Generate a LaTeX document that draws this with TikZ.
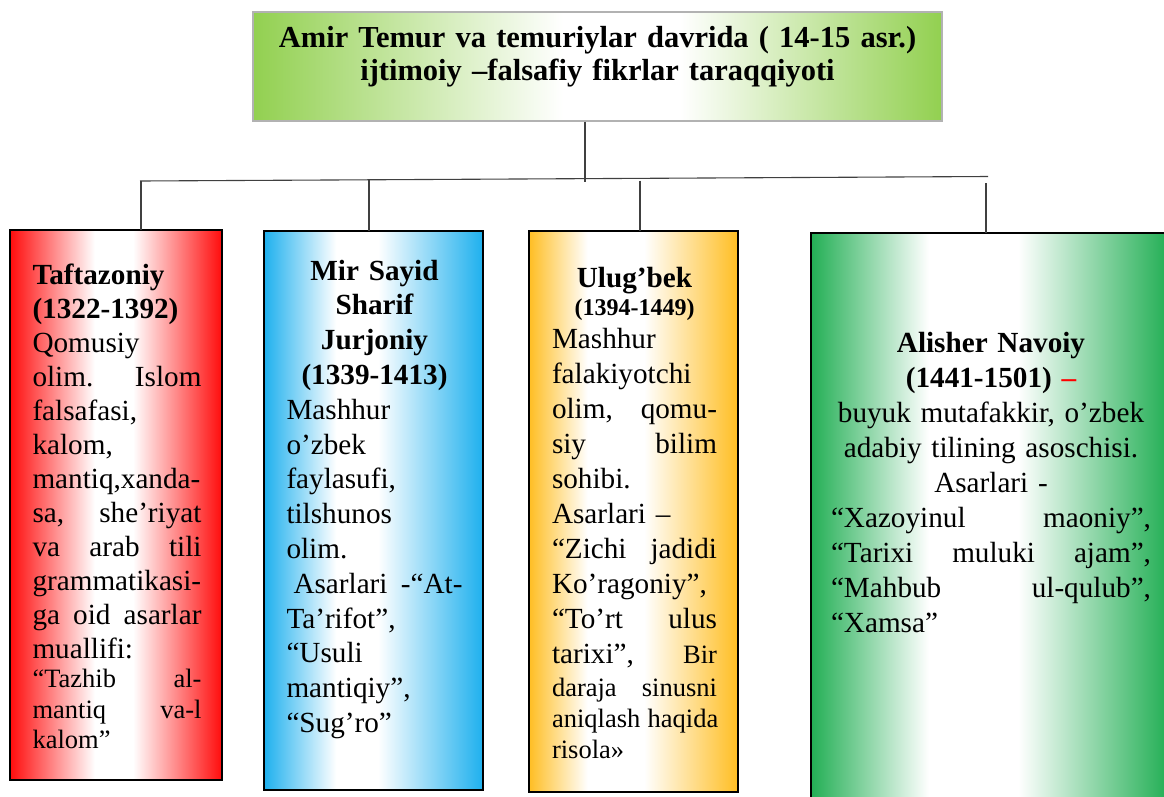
\documentclass[tikz,border=0pt]{standalone}
\usepackage{fontspec}
\setmainfont{Liberation Serif}
\usetikzlibrary{positioning}
\definecolor{headgreen}{RGB}{146,208,80}
\definecolor{cardred}{RGB}{255,12,12}
\definecolor{cardblue}{RGB}{30,176,238}
\definecolor{cardorange}{RGB}{255,190,35}
\definecolor{cardgreen}{RGB}{35,175,85}
% fades: the box itself covers 25bp..75bp of each shading
\pgfdeclarehorizontalshading{headfade}{100bp}{color(0bp)=(headgreen); color(25bp)=(headgreen); color(47.5bp)=(white); color(56bp)=(white); color(75bp)=(headgreen); color(100bp)=(headgreen)}
\pgfdeclarehorizontalshading{redfade}{100bp}{color(0bp)=(cardred); color(25bp)=(cardred); color(45bp)=(white); color(54bp)=(white); color(75bp)=(cardred); color(100bp)=(cardred)}
\pgfdeclarehorizontalshading{bluefade}{100bp}{color(0bp)=(cardblue); color(25bp)=(cardblue); color(41.5bp)=(white); color(51bp)=(white); color(75bp)=(cardblue); color(100bp)=(cardblue)}
\pgfdeclarehorizontalshading{orangefade}{100bp}{color(0bp)=(cardorange); color(25bp)=(cardorange); color(39bp)=(white); color(52.5bp)=(white); color(75bp)=(cardorange); color(100bp)=(cardorange)}
\pgfdeclarehorizontalshading{greenfade}{100bp}{color(0bp)=(cardgreen); color(25bp)=(cardgreen); color(41.5bp)=(white); color(54bp)=(white); color(75bp)=(cardgreen); color(100bp)=(cardgreen)}
\tikzset{
  wire/.style={draw=black!75, line width=1.1pt},
  headbox/.style={draw=black!30, line width=1.2pt, shade, shading=headfade, inner sep=0pt},
  headtxt/.style={inner sep=0pt, text width=689pt, align=center, font=\fontsize{30.5}{32.4}\bfseries\selectfont},
  card/.style={draw=black, line width=2.6pt, shade, anchor=north west, inner sep=0pt, outer sep=0pt},
  cardtxt/.style={inner sep=0pt, font=\fontsize{29.2}{34}\selectfont},
}
\newcommand{\jrow}[1]{\makebox[\hsize][s]{\frenchspacing\spaceskip=.25em plus 1fil\relax #1}}
\newcommand{\lrow}[1]{\makebox[\hsize][l]{#1}}
\newcommand{\smalltxt}{\fontsize{26.5}{30}\selectfont}
\hyphenpenalty=10000
\exhyphenpenalty=10000

\begin{document}
\begin{tikzpicture}[x=1pt, y=-1pt]
  \useasboundingbox (0,0) rectangle (1164,796);
  \clip (0,0) rectangle (1164,796);

  % title box
  \node[headbox, minimum width=689pt, minimum height=109pt] (head) at (597.5,66.5) {};
  \node[headtxt, below=36.3pt of head.north, anchor=base] (headtext)
    {Amir Temur va temuriylar davrida ( 14-15 asr.)\\ ijtimoiy –falsafiy fikrlar taraqqiyoti};

  % the four cards
  \node[card, shading=redfade, minimum width=212pt, minimum height=550pt] (tafta) at (10,230) {};
  \node[card, shading=bluefade, minimum width=219pt, minimum height=559pt] (jurjon) at (264,231) {};
  \node[card, shading=orangefade, minimum width=209pt, minimum height=561pt] (ulugb) at (529,231) {};
  \node[card, shading=greenfade, minimum width=357pt, minimum height=620pt] (navoi) at (811,233) {};

  % connectors
  \coordinate (busL) at (140,181);
  \coordinate (busR) at (988,176.5);
  \coordinate (stem) at (585,182);
  \coordinate (d1) at (141,181);
  \coordinate (d2) at (369,180);
  \coordinate (d3) at (640,180.5);
  \coordinate (d4) at (986,183);
  \draw[wire] (busL) -- (busR);
  \draw[wire] (head.south -| stem) -- (stem);
  \draw[wire] (d1) -- (d1 |- tafta.north);
  \draw[wire] (d2) -- (d2 |- jurjon.north);
  \draw[wire] (d3) -- (d3 |- ulugb.north);
  \draw[wire] (d4) -- (d4 |- navoi.north);

  % card texts
  \node[cardtxt, text width=169pt, align=left, below=54pt of tafta.north, anchor=base, xshift=1pt] (taftatext)
    {{\bfseries Taftazoniy}\\
     {\bfseries (1322-1392)}\\
     Qomusiy\\
     \jrow{olim. Islom}\\
     falsafasi,\\
     kalom,\\
     mantiq,xanda-\\
     \jrow{sa, she’riyat}\\
     \jrow{va arab tili}\\
     grammatikasi-\\
     \jrow{ga oid asarlar}\\
     muallifi:\\[-5pt]
     \jrow{\smalltxt “Tazhib al-}\\[-3pt]
     \jrow{\smalltxt mantiq va-l}\\[-4pt]
     \lrow{\smalltxt kalom”}};

  \node[cardtxt, font=\fontsize{29.2}{34.8}\selectfont, text width=176pt, align=center,
        below=49pt of jurjon.north, anchor=base, xshift=1pt] (jurjontext)
    {{\bfseries Mir Sayid}\\
     {\bfseries Sharif}\\
     {\bfseries Jurjoniy}\\
     {\bfseries (1339-1413)}\\
     \lrow{Mashhur}\\
     \lrow{o’zbek}\\
     \lrow{faylasufi,}\\
     \lrow{tilshunos}\\
     \lrow{olim.}\\
     \jrow{\hspace{7pt}Asarlari -“At-}\\
     \lrow{Ta’rifot”,}\\
     \lrow{“Usuli}\\
     \lrow{mantiqiy”,}\\
     \lrow{“Sug’ro”}};

  \node[cardtxt, font=\fontsize{29.2}{35}\selectfont, text width=165pt, align=center,
        below=56pt of ulugb.north, anchor=base, xshift=1pt] (ulugbtext)
    {{\bfseries Ulug’bek}\\[-7pt]
     {\fontsize{24}{28}\bfseries\selectfont (1394-1449)}\\[-2pt]
     \lrow{Mashhur}\\
     \lrow{falakiyotchi}\\
     \jrow{olim, qomu-}\\
     \jrow{siy bilim}\\
     \lrow{sohibi.}\\
     \lrow{Asarlari –}\\
     \jrow{“Zichi jadidi}\\
     \lrow{Ko’ragoniy”,}\\
     \jrow{“To’rt ulus}\\
     \jrow{tarixi”, {\smalltxt Bir}}\\[-2pt]
     \jrow{\smalltxt daraja sinusni}\\[-4pt]
     \jrow{\smalltxt aniqlash haqida}\\[-4pt]
     \lrow{\smalltxt risola»}};

  \node[cardtxt, font=\fontsize{29.2}{35}\selectfont, text width=320pt, align=center,
        below=119pt of navoi.north, anchor=base, xshift=1.5pt] (navoitext)
    {{\bfseries Alisher Navoiy}\\
     {\bfseries (1441-1501) \textcolor{red}{–}}\\
     buyuk mutafakkir, o’zbek\\
     adabiy tilining asoschisi.\\
     Asarlari -\\
     \jrow{“Xazoyinul maoniy”,}\\
     \jrow{“Tarixi muluki ajam”,}\\
     \jrow{“Mahbub ul-qulub”,}\\
     \lrow{“Xamsa”}};
\end{tikzpicture}
\end{document}
